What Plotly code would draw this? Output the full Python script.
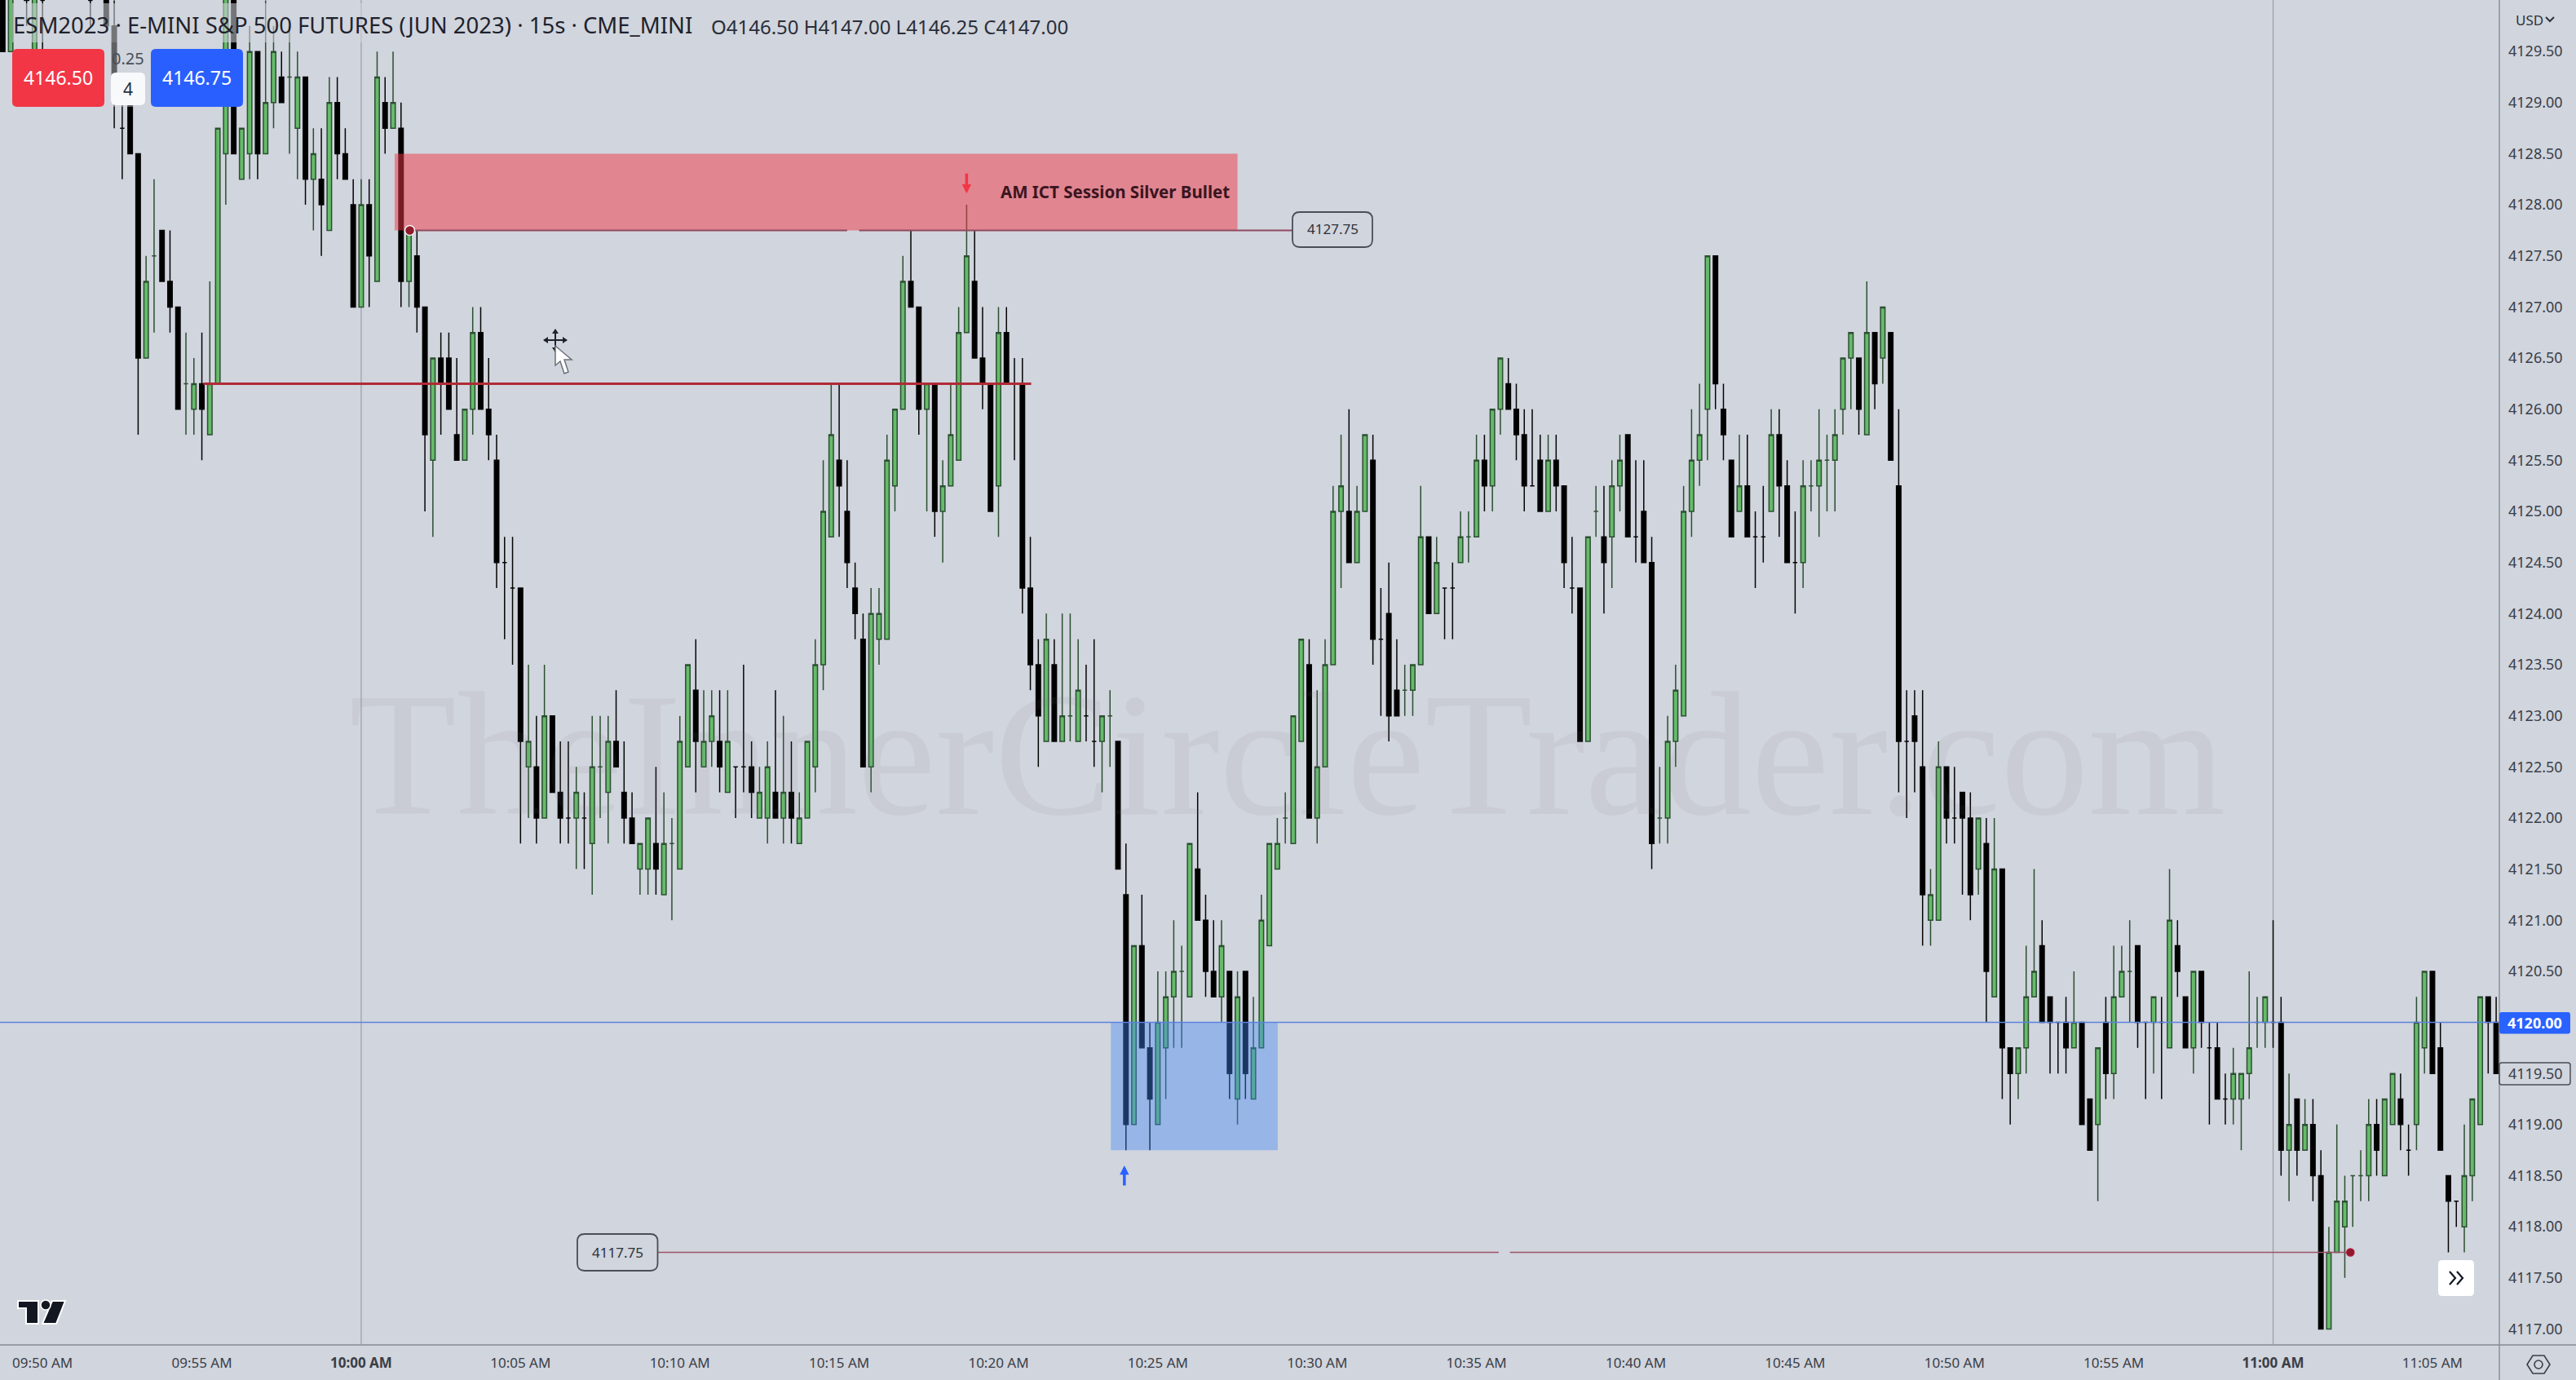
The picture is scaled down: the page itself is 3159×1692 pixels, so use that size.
import pandas as pd
import plotly.graph_objects as go

W, H = 3159, 1692
PLOT_R, PLOT_B = 3065, 1649
BG = "#D1D5DD"
FONT = "Noto Sans"

# 15-second bars; the list starts at 09:48:45 and advances one bar per entry
opens = [
 4130.25,4129.5,None,4130.25,4129.5,4130,None,None,None,None,
 None,4130,None,4130.25,4129.75,4128.75,4129,4128.5,4126.5,4127.5,
 4127.75,4127.25,4127,4126.25,4126,4126.25,4125.75,4126.25,4128.5,4130.25,
 4128.25,4128.5,4129.5,4128.5,4129,4129.25,4129.25,4128.75,4129.25,4128.25,
 4128.25,4127.75,4129,4128.5,4128,4127,4128,4127.25,4129,4128.75,
 4128.75,4127.25,4127.5,4127,4125.5,4126.5,4126.5,4125.75,4125.5,4126,
 4126.75,4126,4125.5,4124.5,4124.25,4124.25,4122.5,4122.5,4122,4123,
 4122.25,4122,4122,4122,4121.75,4122.5,4122.25,4122.75,4122.25,4122,
 4121.5,4121.5,4121.75,4121.25,4121.75,4121.5,4122.5,4123.25,4122.5,4122.75,
 4122.75,4122.25,4122.5,4122.5,4122.5,4122,4122,4122.25,4122,4122.25,
 4121.75,4122,4122.5,4123.5,4124.75,4125.5,4125,4124.25,4123.75,4122.5,
 4123.75,4123.75,4125.25,4126,4127.25,4127,4126,4126.25,4125,4125.25,
 4125.5,4126.75,4127.25,4126.5,4126.25,4125.25,4126.75,4126.25,4126.25,4124.25,
 4123.5,4122.75,4123.5,4122.75,4123,4122.75,4123,4122.75,4122.75,4123,
 4122.75,4121.25,4119,4120.75,4119.75,4119,4119.75,4120.25,4120.5,4120.25,
 4121.5,4121,4120.5,4120.25,4120.5,4119.25,4120.5,4119.25,4119.75,4120.75,
 4121.5,4122,4121.75,4122.75,4123.5,4122,4122.5,4123.5,4125,4125,
 4124.5,4125,4125.5,4123.75,4124,4123.25,4123.25,4123.25,4123.5,4124.75,
 4124,4124.25,4124.25,4124.5,4124.75,4124.75,4125.5,4125.25,4126,4126.25,
 4126,4125.75,4125.25,4125.5,4125,4125.5,4125.25,4124.25,4124.25,4122.75,
 4125,4124.75,4124.75,4125.25,4125.75,4124.75,4125,4124.5,4122,4122,
 4122.75,4123,4125,4125.5,4126,4127.5,4126,4125.5,4125,4125.25,
 4124.75,4124.75,4125,4125.75,4125.25,4124.5,4124.5,4125.25,4125.25,4125.5,
 4125.5,4126,4126.5,4126.5,4125.75,4126.75,4126.5,4126.75,4125.25,4122.75,
 4123,4122.5,4121,4121,4122.5,4122,4122.25,4122,4121.5,4121.75,
 4120.25,4121.5,4119.75,4119.5,4119.75,4120.25,4120.75,4120.25,4120,4120,
 4119.75,4120,4119.25,4119,4120,4119.5,4120.25,4120.5,4120.75,4120,
 4120,4120,4119.75,4120.75,4120.25,4119.75,4120.5,4119.75,4119.75,4119.25,
 4119.25,4119.25,4119.5,4120,4120,4120,4120,4118.75,4119.25,4118.75,
 4119,4118.5,4117,4117.75,4118,4118.5,4118.5,4118.5,4119,4118.5,
 4119,4119.25,4118.75,4119,4119.75,4120.5,4119.75,4118.5,4118.25,4118,
 4118.5,4119,4120.25,4120,
]
highs = [
 4130.5,4130.25,None,4130.25,4130.25,4130.25,None,None,None,None,
 None,4130.25,None,4130.25,4130,4129,4129,4128.5,4127.5,4128.25,
 4127.75,4127.75,4127,4126.75,4126.5,4126.75,4127.25,4128.75,4130.25,4130.25,
 4128.75,4129.75,4129.5,4130,4129.75,4129.5,4129.75,4129.5,4129.25,4128.75,
 4128.75,4129.25,4129.25,4128.75,4128.25,4128.25,4128.25,4129.5,4129.25,4129.5,
 4129,4127.75,4127.75,4127,4126.5,4126.75,4126.75,4126.5,4126,4127,
 4127,4126.5,4125.75,4124.75,4124.75,4124.25,4123.5,4123,4123.5,4123,
 4122.75,4122.75,4122.5,4122.25,4123,4123,4123,4123.25,4122.75,4122.25,
 4121.75,4122,4122.5,4122.25,4122,4123,4123.5,4123.75,4123.25,4123.25,
 4123.25,4123.25,4122.5,4123.5,4122.75,4122.5,4122.75,4123.25,4123,4122.75,
 4122.25,4122.75,4123.75,4125.5,4126.25,4126.25,4125.5,4124.5,4124,4124.25,
 4124.25,4125.75,4126,4127.5,4127.75,4127,4126.25,4126.25,4125.5,4126.25,
 4127,4128,4127.75,4127,4126.25,4127,4127,4126.5,4126.5,4124.75,
 4123.75,4124,4123.75,4124,4124,4123.75,4123.5,4123.75,4123,4123.25,
 4122.75,4121.75,4120.75,4121.25,4120,4120.5,4120.5,4121,4120.75,4121.75,
 4122.25,4121.25,4121,4121,4120.5,4120.5,4120.5,4120.25,4121.25,4121.75,
 4122,4122.25,4123,4123.75,4123.75,4123.25,4123.75,4125.25,4125.75,4126,
 4125.25,4125.75,4125.75,4124.25,4124.5,4123.75,4123.5,4123.5,4125.25,4124.75,
 4124.75,4124.25,4124.5,4125,4125,4125.75,4125.75,4126,4126.5,4126.5,
 4126.25,4126,4126,4125.75,4125.75,4125.75,4125.25,4124.75,4124.25,4124.75,
 4125.25,4125.25,4125.5,4125.75,4125.75,4125.5,4125.5,4124.75,4122.5,4123,
 4123.5,4125.25,4126,4126.25,4127.5,4127.5,4126.25,4125.5,4125.75,4125.75,
 4125,4125.25,4126,4126,4125.5,4125,4125.5,4125.5,4126,4125.75,
 4126,4126.5,4126.75,4126.5,4127.25,4126.75,4127,4126.75,4126,4123.25,
 4123.25,4123.25,4121.5,4122.75,4122.5,4122.5,4122.25,4122.25,4122,4122,
 4122,4121.5,4119.75,4119.75,4120.75,4121.5,4121,4120.25,4120,4120.25,
 4120.5,4120,4119.25,4119.75,4120.25,4120.75,4120.75,4121,4120.75,4120,
 4120.25,4120.25,4121.5,4121,4120.25,4120.5,4120.5,4120,4120,4119.5,
 4119.75,4119.5,4120.5,4120.25,4120.25,4121,4120.25,4119.5,4119.25,4119.25,
 4119.25,4118.75,4118,4119,4118.5,4118.5,4118.75,4119.25,4119.25,4119.25,
 4119.5,4119.5,4119,4120.25,4120.5,4120.5,4120,4118.5,4118.25,4119,
 4119.25,4120.25,4120.25,4120.25,
]
lows = [
 4129.5,4129.5,None,4129.75,4129.25,4129.5,None,None,None,None,
 None,4129.75,None,4129.75,4128.75,4128.25,4128.5,4125.75,4126.5,4126.75,
 4127.25,4126.75,4126,4125.75,4125.75,4125.5,4125.75,4126.25,4128,4128.5,
 4128.25,4128.25,4128.25,4128.5,4128.75,4129,4128.5,4128.25,4128,4127.75,
 4127.5,4127.75,4128.25,4128.25,4127,4127,4127,4127.25,4128.5,4128.75,
 4127,4127,4126.75,4125,4124.75,4125.75,4126,4125.5,4125.5,4125.75,
 4126,4125.5,4124.25,4123.75,4123.5,4121.75,4122,4121.75,4122,4122.25,
 4121.75,4121.75,4121.5,4121.5,4121.25,4122,4121.75,4122.5,4121.75,4121.75,
 4121.25,4121.25,4121.25,4121.25,4121,4121.5,4122.5,4122.25,4122.5,4122.5,
 4122.25,4122.25,4122,4122.25,4122,4122,4121.75,4122,4121.75,4121.75,
 4121.75,4122,4122.25,4123.25,4124.75,4124.75,4124.25,4123.75,4122.5,4122.25,
 4123.5,4123.75,4125,4126,4127,4125.75,4125,4124.75,4124.5,4125.25,
 4125.5,4126.75,4126.5,4126,4125,4124.75,4126.25,4125.5,4124,4123.25,
 4122.5,4122.75,4122.75,4122.75,4122.75,4122.75,4122.75,4122.5,4122.25,4122.5,
 4121.5,4118.75,4119,4119.75,4118.75,4119,4119.25,4119.75,4119.75,4120.25,
 4121,4120.25,4120.25,4120,4119.25,4119,4119.25,4119.25,4119.75,4120.75,
 4121.5,4121.75,4121.75,4122.75,4122,4121.75,4122.5,4123.5,4124.25,4124.5,
 4124.5,4125,4123.5,4123,4122.75,4123,4123,4123,4123.5,4124,
 4124,4123.75,4123.75,4124.5,4124.5,4124.75,4125,4125,4125.75,4126,
 4125.5,4125,4125.25,4125,4125,4125,4124.25,4124,4122.75,4122.75,
 4124.75,4124,4124.25,4125,4124.75,4124.5,4124.5,4121.5,4121.75,4121.75,
 4122.5,4123,4124.75,4125.25,4125.5,4126,4125.5,4124.75,4125,4124.75,
 4124.25,4124.5,4125,4124.75,4124.5,4124,4124.25,4125,4124.75,4125,
 4125,4125.75,4126,4125.75,4125.75,4126,4126.25,4125.5,4122.25,4122,
 4122.25,4120.75,4120.75,4121,4121.75,4121.75,4121.25,4121,4121.25,4120,
 4120.25,4119.25,4119,4119.25,4119.5,4120.25,4120,4119.5,4119.5,4119.5,
 4119.75,4119,4118.75,4118.25,4119.25,4119.25,4120.25,4120,4119.75,4119.25,
 4119.5,4119.25,4119.75,4120.25,4119.75,4119.5,4119.75,4119,4119.25,4119,
 4119,4118.75,4119.25,4119.75,4119.75,4119.75,4118.5,4118.25,4118.5,4118.75,
 4118.25,4117,4117,4117.75,4117.5,4118,4118.25,4118.25,4118.5,4118.5,
 4119,4118.75,4118.5,4118.75,4119.5,4119.5,4118.75,4117.75,4118,4117.75,
 4118.25,4119,4119.5,4119.5,
]
closes = [
 4129.5,4130.25,None,4130,4130.25,4130,None,None,None,None,
 None,4130,None,4129.75,4129,4128.75,4128.5,4126.5,4127.25,4127.5,
 4127.25,4127,4126,4126.25,4126.25,4126,4126.25,4128.75,4130.25,4128.5,
 4128.75,4129.5,4128.5,4129,4129.5,4129,4129.25,4129.25,4128.25,4128.5,
 4128,4129,4128.5,4128.25,4127,4128,4127.5,4129.25,4128.75,4129,
 4127.25,4127.75,4127,4125.75,4126.5,4126.25,4126,4125.5,4126,4126.75,
 4126,4125.75,4124.5,4124.5,4124.25,4122.75,4122.75,4122,4123,4122.25,
 4122,4122,4122.25,4122,4122.5,4122.5,4122.75,4122.5,4122,4121.75,
 4121.75,4122,4121.5,4121.75,4121.75,4122.75,4123.5,4122.75,4122.75,4123,
 4122.5,4122.75,4122.5,4122.5,4122.25,4122.25,4122.5,4122,4122.25,4122,
 4122,4122.75,4123.5,4125,4125.75,4125.25,4124.5,4124,4122.5,4124,
 4124,4125.5,4126,4127.25,4127,4126,4126.25,4125,4125.25,4125.75,
 4126.75,4127.5,4126.5,4126.25,4125,4126.75,4126.25,4126.25,4124.25,4123.5,
 4123,4123.75,4122.75,4123,4123,4123.25,4123,4122.75,4123,4123,
 4121.5,4119,4120.75,4119.75,4119.25,4120,4120.25,4120.5,4120.5,4121.75,
 4121,4120.5,4120.25,4120.75,4119.5,4120.25,4119.5,4119.75,4121,4121.75,
 4121.75,4122,4123,4123.75,4122,4122.5,4123.5,4125,4125.25,4124.5,
 4125,4125.75,4123.75,4123.75,4123,4123,4123.25,4123.5,4124.75,4124,
 4124.5,4124.25,4124.25,4124.75,4124.75,4125.5,4125.25,4126,4126.5,4126,
 4125.75,4125.25,4125.25,4125,4125.5,4125.25,4124.5,4124.25,4122.75,4124.75,
 4125,4124.5,4125.25,4125.5,4124.75,4124.75,4124.5,4121.75,4122,4122.75,
 4123.25,4125,4125.5,4125.75,4127.5,4126.25,4125.75,4124.75,4125.25,4124.75,
 4124.75,4124.75,4125.75,4125.25,4124.5,4124.5,4125.25,4125.25,4125.5,4125.5,
 4125.75,4126.5,4126.75,4126,4126.75,4126.25,4127,4125.5,4122.75,4122.75,
 4122.75,4121.25,4121.25,4122.5,4122,4122,4122,4121.25,4122,4120.5,
 4121.5,4119.75,4119.5,4119.75,4120.25,4120.5,4120,4120,4120,4119.75,
 4120,4119,4118.75,4119.75,4119.5,4120.25,4120.5,4120.5,4120,4120,
 4120.25,4120,4121,4120.5,4119.75,4120.5,4120,4119.75,4119.25,4119.25,
 4119.5,4119.5,4119.75,4120,4120.25,4120,4118.75,4119,4118.75,4119,
 4118.5,4117,4117.75,4118.25,4118.25,4118.5,4118.5,4119,4118.75,4119.25,
 4119.5,4119,4118.75,4120,4120.5,4119.5,4118.75,4118.25,4118.25,4118.5,
 4119.25,4120.25,4120,4119.5,
]
times = pd.date_range("2023-05-01 09:48:45", periods=len(opens), freq="15s")

time_ticks = ["09:50", "09:55", "10:00", "10:05", "10:10", "10:15", "10:20", "10:25",
              "10:30", "10:35", "10:40", "10:45", "10:50", "10:55", "11:00", "11:05"]
time_labels = ["09:50 AM", "09:55 AM", "<b>10:00 AM</b>", "10:05 AM", "10:10 AM", "10:15 AM",
               "10:20 AM", "10:25 AM", "10:30 AM", "10:35 AM", "10:40 AM", "10:45 AM",
               "10:50 AM", "10:55 AM", "<b>11:00 AM</b>", "11:05 AM"]

def stamp(bar):
    """Time of a (possibly fractional) bar index counted from 10:00."""
    return pd.Timestamp("2023-05-01 10:00:00") + pd.Timedelta(seconds=15 * bar)

def px(x):
    return x / W

def py(y):
    return 1 - y / H

def poly(points):
    return "M " + " L ".join(f"{px(x):.5f},{py(y):.5f}" for x, y in points) + " Z"

def rounded(x0, y0, x1, y1, r):
    return (f"M {px(x0+r):.5f},{py(y0):.5f} L {px(x1-r):.5f},{py(y0):.5f} "
            f"Q {px(x1):.5f},{py(y0):.5f} {px(x1):.5f},{py(y0+r):.5f} "
            f"L {px(x1):.5f},{py(y1-r):.5f} Q {px(x1):.5f},{py(y1):.5f} {px(x1-r):.5f},{py(y1):.5f} "
            f"L {px(x0+r):.5f},{py(y1):.5f} Q {px(x0):.5f},{py(y1):.5f} {px(x0):.5f},{py(y1-r):.5f} "
            f"L {px(x0):.5f},{py(y0+r):.5f} Q {px(x0):.5f},{py(y0):.5f} {px(x0+r):.5f},{py(y0):.5f} Z")

fig = go.Figure(go.Candlestick(
    x=times, open=opens, high=highs, low=lows, close=closes,
    increasing=dict(line=dict(color="#2B4F31", width=1.5), fillcolor="#66BB6A"),
    decreasing=dict(line=dict(color="#050505", width=1.5), fillcolor="#000000"),
    whiskerwidth=0, hoverinfo="skip", showlegend=False,
))

shapes = []

def data_line(b0, b1, price, color, width):
    shapes.append(dict(type="line", xref="x", yref="y", x0=stamp(b0), x1=stamp(b1),
                       y0=price, y1=price, line=dict(color=color, width=width), layer="above"))

def paper_line(x0, y0, x1, y1, color, width):
    shapes.append(dict(type="line", xref="paper", yref="paper", x0=px(x0), x1=px(x1),
                       y0=py(y0), y1=py(y1), line=dict(color=color, width=width), layer="above"))

def path(d, fill=None, line=None, width=0):
    shapes.append(dict(type="path", xref="paper", yref="paper", path=d,
                       fillcolor=fill or "rgba(0,0,0,0)",
                       line=dict(color=line or "rgba(0,0,0,0)", width=width), layer="above"))

# session verticals (below the marks)
for b in (0, 240):
    shapes.append(dict(type="line", xref="x", yref="paper", x0=stamp(b), x1=stamp(b),
                       y0=py(PLOT_B), y1=1, line=dict(color="#9A9EA7", width=1.2), layer="below"))

# zones
shapes.append(dict(type="rect", xref="x", yref="y", x0=stamp(4.2), x1=stamp(110), y0=4127.75, y1=4128.5,
                   fillcolor="rgba(242,54,69,0.5)", line=dict(width=0), layer="above"))
shapes.append(dict(type="rect", xref="x", yref="y", x0=stamp(94.1), x1=stamp(115.05), y0=4118.75, y1=4120,
                   fillcolor="rgba(64,135,248,0.4)", line=dict(width=0), layer="above"))

# levels
data_line(-45.34, 268.4, 4120, "#5C82E0", 1.6)
data_line(-19.8, 84.1, 4126.25, "#B02A36", 3)
data_line(6.1, 61, 4127.75, "#8F4B60", 2)
data_line(62.5, 117, 4127.75, "#8F4B60", 2)
data_line(36.8, 142.8, 4117.75, "#9A5468", 1.6)
data_line(144.2, 249.7, 4117.75, "#9A5468", 1.6)

# level dots
for b, price, size, ring in ((6.1, 4127.75, 10, "#F2F2F2"), (249.7, 4117.75, 7, "#B0123A")):
    shapes.append(dict(type="circle", xref="x", yref="y", xsizemode="pixel", ysizemode="pixel",
                       xanchor=stamp(b), yanchor=price, x0=-size / 2 - 1, x1=size / 2 + 1,
                       y0=-size / 2 - 1, y1=size / 2 + 1,
                       fillcolor="#8E1B2C", line=dict(color=ring, width=1.5), layer="above"))

# fade behind the header strip
shapes.append(dict(type="rect", xref="paper", yref="paper", x0=px(15), x1=px(1320), y0=py(52), y1=py(4),
                   fillcolor="rgba(209,213,221,0.55)", line=dict(width=0), layer="above"))
shapes.append(dict(type="rect", xref="paper", yref="paper", x0=px(130), x1=px(182), y0=py(131), y1=py(52),
                   fillcolor="rgba(209,213,221,0.45)", line=dict(width=0), layer="above"))

# axis frame
paper_line(0, PLOT_B, W, PLOT_B, "#9A9DA5", 2)
paper_line(PLOT_R, 0, PLOT_R, H, "#8D9098", 1.5)

# price tags on the axis
path(rounded(3065, 1241, 3152, 1267.5, 3), fill="#2962FF")
path(rounded(3065, 1303, 3152, 1330, 3), line="#4A4E58", width=1.5)

# trade boxes
path(rounded(15, 60, 128, 131, 6), fill="#F23645")
path(rounded(185, 60, 298, 131, 6), fill="#2A5FFF")
path(rounded(136, 89, 178, 129, 6), fill="#F8F9FB")

# level labels
path(rounded(1585, 260, 1683, 303, 9), fill=BG, line="#4A4E58", width=1.8)
path(rounded(708, 1513, 806.5, 1558, 9), fill=BG, line="#4A4E58", width=1.8)

# currency chevron
path(f"M {px(3122):.5f},{py(21):.5f} L {px(3127):.5f},{py(26):.5f} L {px(3132):.5f},{py(21):.5f}",
     line="#2F323A", width=2)

# scroll button
path(rounded(2990, 1545, 3034, 1589, 5), fill="#FFFFFF")
path(f"M {px(3004):.5f},{py(1559):.5f} L {px(3011):.5f},{py(1567):.5f} L {px(3004):.5f},{py(1575):.5f}",
     line="#131722", width=2.2)
path(f"M {px(3013):.5f},{py(1559):.5f} L {px(3020):.5f},{py(1567):.5f} L {px(3013):.5f},{py(1575):.5f}",
     line="#131722", width=2.2)

# settings hexagon
path(poly([(3099, 1673), (3106, 1662), (3120, 1662), (3127, 1673), (3120, 1684), (3106, 1684)]),
     line="#3A3E48", width=1.6)
shapes.append(dict(type="circle", xref="paper", yref="paper", x0=px(3108), x1=px(3118), y0=py(1678), y1=py(1668),
                   line=dict(color="#3A3E48", width=1.6), layer="above"))

# TradingView mark
path(poly([(22, 1595), (47, 1595), (47, 1623), (32, 1623), (32, 1604), (22, 1604)]),
     fill="#131722", line="#FFFFFF", width=2)
path(poly([(64, 1595), (80, 1595), (69, 1623), (52, 1623)]), fill="#131722", line="#FFFFFF", width=2)
shapes.append(dict(type="circle", xref="paper", yref="paper", x0=px(50), x1=px(62), y0=py(1606), y1=py(1594),
                   fillcolor="#131722", line=dict(color="#FFFFFF", width=1.5), layer="above"))

# mouse cursor
paper_line(681, 404, 681, 432, "#1E222D", 2)
paper_line(667, 417, 695, 417, "#1E222D", 2)
path(poly([(681, 403), (677, 409), (685, 409)]), fill="#1E222D")
path(poly([(681, 432), (677, 426), (685, 426)]), fill="#1E222D")
path(poly([(666, 417), (672, 413), (672, 421)]), fill="#1E222D")
path(poly([(696, 417), (690, 413), (690, 421)]), fill="#1E222D")
path(poly([(681, 424), (681, 448), (687, 443), (692, 458), (697, 456), (692, 441), (701, 441)]),
     fill="#FFFFFF", line="#6C707A", width=1.5)

def label(x, y, text, size, color, anchor="center", family=FONT):
    return dict(xref="paper", yref="paper", x=px(x), y=py(y), text=text, showarrow=False,
                xanchor=anchor, yanchor="middle", font=dict(family=family, size=size, color=color))

annotations = [
    label(14, 31, "ESM2023 · E-MINI S&amp;P 500 FUTURES (JUN 2023) · 15s · CME_MINI", 27.5, "#1E222D", "left"),
    label(870, 33, "O4146.50 H4147.00 L4146.25 C4147.00", 24, "#2A2E39", "left"),
    label(71, 95, "4146.50", 23, "#FFFFFF"),
    label(241, 95, "4146.75", 23, "#FFFFFF"),
    label(157, 72, "0.25", 20, "#4A4E58"),
    label(157, 109, "4", 21, "#2A2E39"),
    label(3083, 24, "USD", 17, "#2F323A", "left"),
    label(3108.5, 1254, "<b>4120.00</b>", 18, "#FFFFFF"),
    label(1367, 235, "<b>AM ICT Session Silver Bullet</b>", 20.5, "#3A1520"),
    label(1634, 281, "4127.75", 17, "#2F323A"),
    label(757, 1535, "4117.75", 17, "#2F323A"),
    label(1578, 925, "TheInnerCircleTrader.com", 216, "rgba(120,122,135,0.09)", family="Liberation Serif"),
    dict(x=stamp(76), y=4128.11, xref="x", yref="y", ax=0, ay=-26, axref="pixel", ayref="pixel",
         text="", showarrow=True, arrowhead=2, arrowsize=0.65, arrowwidth=3.5, arrowcolor="#F23645"),
    dict(x=stamp(95.8), y=4118.6, xref="x", yref="y", ax=0, ay=26, axref="pixel", ayref="pixel",
         text="", showarrow=True, arrowhead=2, arrowsize=0.65, arrowwidth=3.5, arrowcolor="#2962FF"),
]

fig.update_layout(
    width=W, height=H, autosize=False, margin=dict(l=0, r=0, t=0, b=0),
    paper_bgcolor=BG, plot_bgcolor=BG, shapes=shapes, annotations=annotations,
    showlegend=False, hovermode=False, boxgap=0.2,
    xaxis=dict(
        type="date", domain=[0, PLOT_R / W], range=[stamp(-45.34), stamp(268.4)],
        rangeslider=dict(visible=False), showgrid=False, zeroline=False, showline=False,
        tickmode="array", tickvals=[f"2023-05-01 {t}:00" for t in time_ticks], ticktext=time_labels,
        ticks="", ticklabelstandoff=10, tickfont=dict(family=FONT, size=17, color="#3A3E48"),
        anchor="y",
    ),
    yaxis=dict(
        domain=[1 - PLOT_B / H, 1], range=[4116.844, 4130.004], side="right",
        showgrid=False, zeroline=False, showline=False, tick0=4117, dtick=0.5,
        tickformat=".2f", ticks="", ticklabelstandoff=10,
        tickfont=dict(family=FONT, size=18, color="#3A3E48"), anchor="x",
    ),
)

fig.write_html("out.html", config={"displayModeBar": False},
               post_script="document.body.style.margin='0';document.body.style.background='#D1D5DD';")
